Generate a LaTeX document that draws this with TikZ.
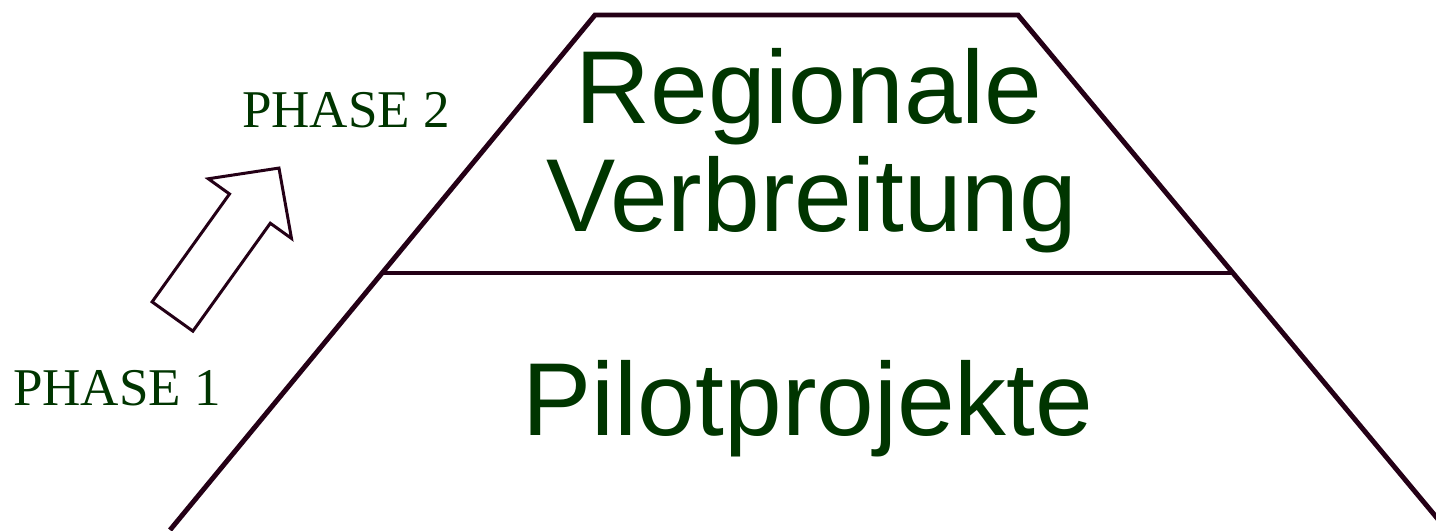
\documentclass[tikz,border=0pt]{standalone}
\usepackage{fontspec}
\setmainfont{Liberation Serif}
\newfontfamily\arialfont{Liberation Sans}
\usepackage{xcolor}
\usepackage{tikz}
\usetikzlibrary{positioning}
\definecolor{textgreen}{RGB}{0,53,0}
\definecolor{linedark}{RGB}{36,0,22}

\begin{document}
\begin{tikzpicture}[x=1cm,y=1cm,
    pyramidline/.style={draw=linedark,line width=1.4pt,line join=miter},
    phaselabel/.style={text=textgreen,inner sep=0pt,anchor=base,
                       font=\fontsize{15.1}{18}\selectfont},
    layertext/.style={text=textgreen,inner sep=0pt,anchor=base,
                      font=\arialfont\fontsize{29.5}{31}\selectfont}]
      \clip (0,0) rectangle (14.36,5.30);

      % corners of the pyramid
      \coordinate (topleft)  at (5.95,5.15);
      \coordinate (topright) at (10.18,5.15);
      \coordinate (midleft)  at (3.83,2.57);
      \coordinate (midright) at (12.33,2.57);
      \coordinate (botleft)  at (1.70,0.00);
      \coordinate (botright) at (14.47,0.00);

      \draw[pyramidline] (botleft) -- (topleft) -- (topright) -- (botright);
      \draw[pyramidline] (midleft) -- (midright);

      % layer labels
      \node[layertext] (regionale)   at (8.09,4.07) {Regionale};
      \node[layertext] (verbreitung) at (8.12,2.99) {Verbreitung};
      \node[layertext] (pilot)       at (8.08,0.95) {Pilotprojekte};

      % phase labels
      \node[phaselabel] (phaseone) at (1.17,1.25) {PHASE 1};
      \node[phaselabel] (phasetwo) at (3.46,4.03) {PHASE 2};

      % hollow block arrow between the phases
      \coordinate (arrowtail) at (1.725,2.135);
      \begin{scope}[shift={(arrowtail)},rotate=54.35]
        \draw[draw=linedark,line width=0.85pt,fill=white,line join=miter]
          (0,-0.251) -- (1.328,-0.251) -- (1.328,-0.512) -- (1.827,0)
          -- (1.328,0.512) -- (1.328,0.251) -- (0,0.251) -- cycle;
      \end{scope}
\end{tikzpicture}
\end{document}
